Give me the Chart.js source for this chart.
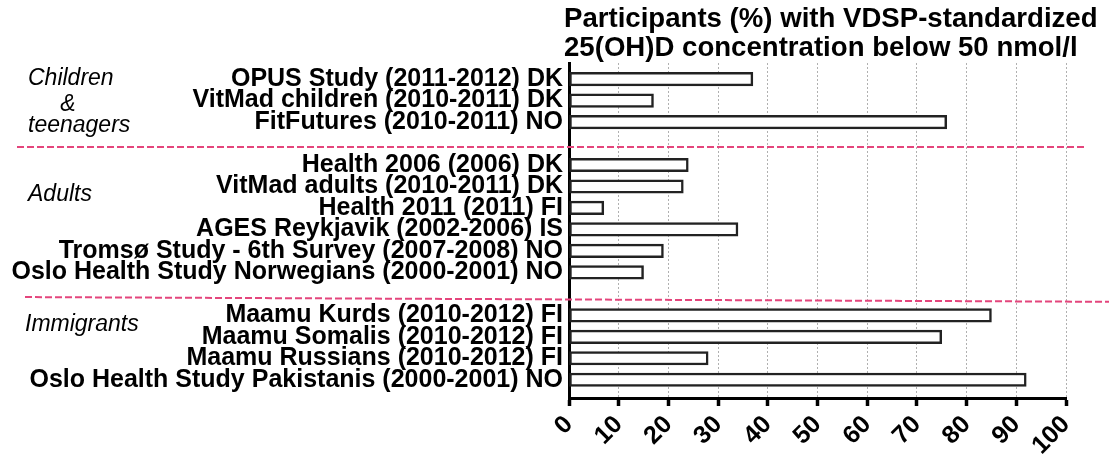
<!DOCTYPE html>
<html>
<head>
<meta charset="utf-8">
<script src="https://cdn.jsdelivr.net/npm/chart.js@4/dist/chart.umd.min.js"></script>
<style>
  body { margin: 0; background: #fff; }
  #wrap { width: 1114px; height: 461px; }
</style>
</head>
<body>
<div id="wrap"><canvas id="vitD"></canvas></div>
<script>
// rows top to bottom, "" = gap between groups
const studies = [
  "OPUS Study (2011-2012) DK",
  "VitMad children (2010-2011) DK",
  "FitFutures (2010-2011) NO",
  "",
  "Health 2006 (2006) DK",
  "VitMad adults (2010-2011) DK",
  "Health 2011 (2011) FI",
  "AGES Reykjavik (2002-2006) IS",
  "Tromsø Study - 6th Survey (2007-2008) NO",
  "Oslo Health Study Norwegians (2000-2001) NO",
  "",
  "Maamu Kurds (2010-2012) FI",
  "Maamu Somalis (2010-2012) FI",
  "Maamu Russians (2010-2012) FI",
  "Oslo Health Study Pakistanis (2000-2001) NO"
];
const pctBelow50 = [37, 17, 76, null, 24, 23, 7, 34, 19, 15, null, 85, 75, 28, 92];
const xTicks = [0, 10, 20, 30, 40, 50, 60, 70, 80, 90, 100];
const titleLines = ["Participants (%) with VDSP-standardized", "25(OH)D concentration below 50 nmol/l"];
const groupNames = ["Children", "&", "teenagers", "Adults", "Immigrants"];

const FONT = "'Liberation Sans', Arial, sans-serif";
Chart.defaults.font.family = FONT;
Chart.defaults.color = "#000";

const barData = [];
pctBelow50.forEach((v, i) => { if (v !== null) barData.push({ x: v, y: i }); });

// title, group names and the pink separators
const extras = {
  id: "extras",
  afterDraw(chart) {
    const { ctx, chartArea } = chart;
    const y = chart.scales.y;
    ctx.save();
    // title
    ctx.fillStyle = "#000";
    ctx.font = "bold 27.6px " + FONT;
    ctx.textBaseline = "alphabetic";
    ctx.textAlign = "left";
    ctx.fillText(titleLines[0], chartArea.left - 5, 27);
    ctx.fillText(titleLines[1], chartArea.left - 5, 56);

    // group names
    ctx.font = "italic 23px " + FONT;
    ctx.textBaseline = "middle";
    const spots = [[28, 0, "left"], [68, 1.18, "center"], [28, 2.16, "left"], [28, 5.37, "left"], [25, 11.41, "left"]];
    groupNames.forEach((g, i) => {
      ctx.textAlign = spots[i][2];
      ctx.fillText(g, spots[i][0], y.getPixelForValue(spots[i][1]));
    });

    // separators
    ctx.strokeStyle = "#e4457c";
    ctx.lineWidth = 2;
    ctx.setLineDash([7, 3]);
    ctx.beginPath();
    ctx.moveTo(17, y.getPixelForValue(3.16));
    ctx.lineTo(1087, y.getPixelForValue(3.16));
    ctx.moveTo(25, y.getPixelForValue(10.15));
    ctx.lineTo(1109, y.getPixelForValue(10.37));
    ctx.stroke();
    ctx.restore();
  }
};

new Chart(document.getElementById("vitD"), {
  type: "bar",
  data: {
    datasets: [{
      data: barData,
      backgroundColor: "#fff",
      borderColor: "#222",
      borderWidth: 2.5,
      borderSkipped: false,
      barThickness: 13.5
    }]
  },
  options: {
    indexAxis: "y",
    responsive: true,
    maintainAspectRatio: false,
    animation: false,
    layout: { padding: { top: 63, right: 48, bottom: 0, left: 0 } },
    plugins: { legend: { display: false }, tooltip: { enabled: false } },
    scales: {
      x: {
        type: "linear",
        min: 0,
        max: 100,
        offset: false,
        afterBuildTicks: s => { s.ticks = xTicks.map(v => ({ value: v })); },
        afterFit: s => { s.height = 63; },
        ticks: {
          font: { size: 25, weight: "bold" },
          maxRotation: 45,
          minRotation: 45,
          padding: 4
        },
        grid: {
          color: c => (c.tick && c.tick.value === 0) ? "rgba(0,0,0,0)" : "#b0b0b0",
          lineWidth: 1,
          tickColor: "#000",
          tickWidth: 3.5,
          tickLength: 8
        },
        border: { color: "#000", width: 3, dash: [2, 2] }
      },
      y: {
        type: "linear",
        reverse: true,
        offset: false,
        min: -0.75,
        max: 14.85,
        afterBuildTicks: s => { s.ticks = studies.map((_, i) => ({ value: i })); },
        afterFit: s => { s.width = 569; },
        ticks: {
          font: { size: 25, weight: "bold" },
          padding: 6,
          autoSkip: false,
          callback: v => studies[v]
        },
        grid: { offset: false, drawOnChartArea: false, drawTicks: false },
        border: { color: "#000", width: 3 }
      }
    }
  },
  plugins: [extras]
});
</script>
</body>
</html>
